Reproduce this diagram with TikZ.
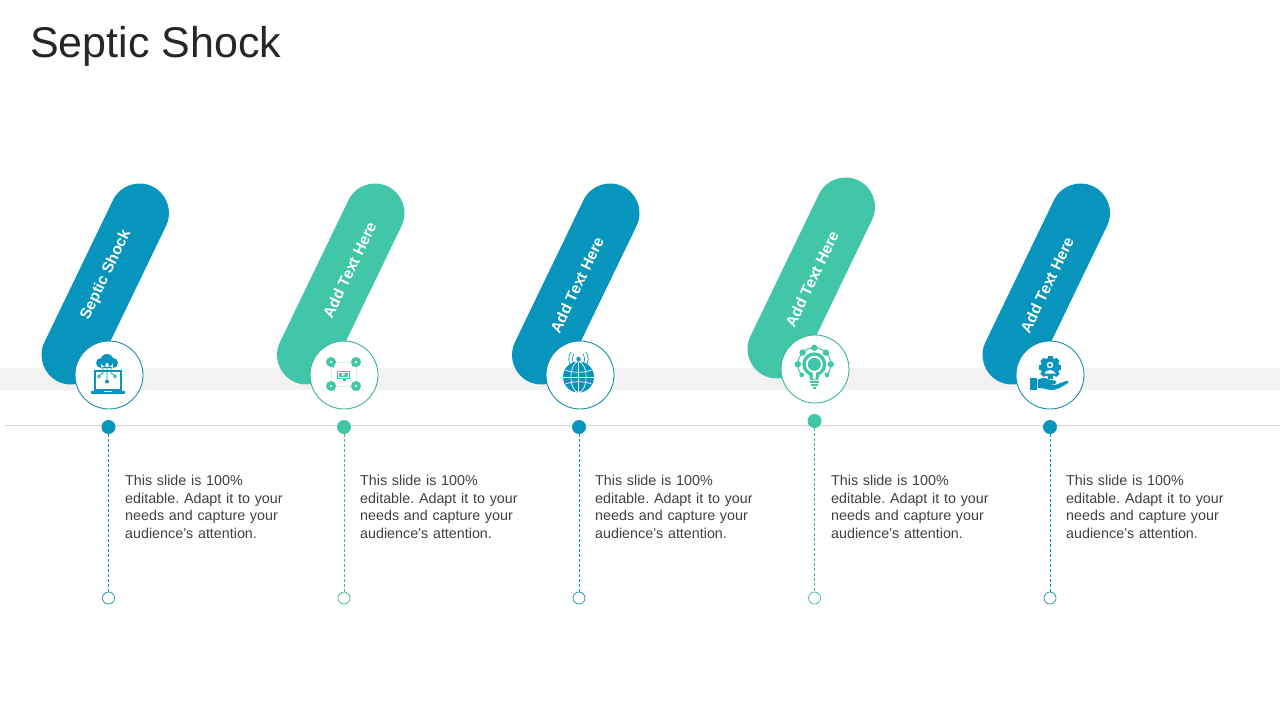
\documentclass[tikz,border=0pt]{standalone}
\usepackage{fontspec}
\setmainfont{Liberation Sans}
\definecolor{bluec}{HTML}{0795BE}
\definecolor{tealc}{HTML}{41C7A8}
\definecolor{ringblue}{HTML}{1A8FA8}
\definecolor{ringteal}{HTML}{35B89C}
\definecolor{bandc}{HTML}{F2F2F2}
\definecolor{rulec}{HTML}{D9D9D9}
\definecolor{bodyc}{HTML}{404040}
\definecolor{titlec}{HTML}{262626}
\tikzset{
  x=1pt,y=-1pt,
  pill/.style={line width=59pt,line cap=round},
  pilltext/.style={text=white,font=\bfseries\fontsize{15.5}{18}\selectfont,rotate=64.4,inner sep=0pt},
  ring/.style={circle,draw,fill=white,line width=0.9pt,minimum size=68pt,inner sep=0pt},
  dot/.style={circle,minimum size=14pt,inner sep=0pt},
  opendot/.style={circle,draw,fill=white,line width=0.7pt,minimum size=12pt,inner sep=0pt},
  stem/.style={dash pattern=on 3pt off 2pt,line width=0.9pt},
  body/.style={anchor=north west,align=left,text=bodyc,inner sep=0pt,text width=170pt,font=\fontsize{14.3}{17.6}\selectfont},
}
\begin{document}
\begin{tikzpicture}
\useasboundingbox (0,0) rectangle (1280,720);
\node[anchor=west,inner sep=0pt,text=titlec,font=\fontsize{43}{50}\selectfont] (title) at (30,46) {Septic Shock};
\fill[bandc] (0,368) rectangle (1280,390);
\draw[rulec,line width=0.9pt] (4,425.5) -- (1280,425.5);
% pills
\draw[pill,bluec] (139.5,213) -- (71,355);
\draw[pill,tealc] (375,213) -- (306.5,355);
\draw[pill,bluec] (610,213) -- (541.5,355);
\draw[pill,tealc] (845.5,207) -- (777,349);
\draw[pill,bluec] (1080.5,213) -- (1012,355);
\node[pilltext] (p1) at (106,275) {Septic Shock};
\node[pilltext] (p2) at (349.5,270) {Add Text Here};
\node[pilltext] (p3) at (577,285) {Add Text Here};
\node[pilltext] (p4) at (812,279) {Add Text Here};
\node[pilltext] (p5) at (1047,285) {Add Text Here};
% rings
\node[ring,draw=ringblue] (r1) at (109,375) {};
\node[ring,draw=ringteal] (r2) at (344,375) {};
\node[ring,draw=ringblue] (r3) at (580,375) {};
\node[ring,draw=ringteal] (r4) at (815,369) {};
\node[ring,draw=ringblue] (r5) at (1050,375) {};
% dots and stems
\node[dot,fill=bluec] (a1) at (108.5,427) {};
\node[dot,fill=tealc] (a2) at (344,427) {};
\node[dot,fill=bluec] (a3) at (579,427) {};
\node[dot,fill=tealc] (a4) at (814.5,421) {};
\node[dot,fill=bluec] (a5) at (1050,427) {};
\node[opendot,draw=ringblue] (b1) at (108.5,598) {};
\node[opendot,draw=ringteal] (b2) at (344,598) {};
\node[opendot,draw=ringblue] (b3) at (579,598) {};
\node[opendot,draw=ringteal] (b4) at (814.5,598) {};
\node[opendot,draw=ringblue] (b5) at (1050,598) {};
\draw[stem,bluec] (a1) -- (b1);
\draw[stem,ringteal] (a2) -- (b2);
\draw[stem,bluec] (a3) -- (b3);
\draw[stem,ringteal] (a4) -- (b4);
\draw[stem,bluec] (a5) -- (b5);
% body text
\foreach \n/\x in {1/125,2/360,3/595,4/831,5/1066}{
  \node[body] (t\n) at (\x,475) {\frenchspacing This slide is 100\%\\editable. Adapt it to your\\needs and capture your\\audience's attention.};
}
% icon 1: cloud over laptop
\begin{scope}[shift={(109,375)}]
  \fill[bluec] (-8,-12) circle (5) (-2,-14.5) circle (6.5) (4,-12) circle (5) (-8,-12) rectangle (4,-7);
  \draw[bluec,line width=2pt] (-14.5,-4) rectangle (11.5,14.5);
  \fill[bluec] (-18,15.5) rectangle (16,19);
  \fill[white] (-5,15.5) rectangle (3,16.5);
  \draw[bluec,line width=0.8pt] (-6,-7) -- (-6,-2) -- (-9,0) (-2,-7) -- (-2,4) (2,-7) -- (2,-2) -- (5,0);
  \draw[bluec,line width=0.8pt] (-10,1.5) circle (1.4) (6,1.5) circle (1.4);
  \fill[bluec] (-2,6.5) circle (2);
\end{scope}
% icon 2: monitor and four bubbles
\begin{scope}[shift={(344,375)}]
  \draw[tealc!25,line width=0.5pt] (-13,-13) rectangle (12,11);
  \fill[tealc] (-7.5,-4.5) rectangle (6,3.5);
  \draw[white,line width=0.7pt] (-5.5,-3) rectangle (4,2);
  \fill[white] (-2,-2.2) -- (1,-0.5) -- (-2,1.2) -- cycle;
  \fill[tealc] (-1,4) rectangle (1.5,5.5);
  \foreach \cx/\cy/\tx/\ty in {-13/-13/-10/-7,12/-13/8/-8,-13/11/-9/16,12/11/15/16}{
    \fill[tealc] (\cx,\cy) circle (5);
    \fill[tealc] (\tx,\ty) -- (\cx-3,\cy) -- (\cx+3,\cy) -- cycle;
    \fill[white] (\cx,\cy) circle (1.4);
  }
\end{scope}
% icon 3: globe with antenna
\begin{scope}[shift={(580,375)}]
  \fill[bluec] (-1.5,2) circle (15.5);
  \begin{scope}[white,line width=0.7pt]
    \draw (-17,2) -- (14,2);
    \draw (-1.5,-13.5) -- (-1.5,17.5);
    \draw (-1.5,2) ellipse (7.5 and 15.5);
    \draw (-14.5,-5) .. controls (-8,-2) and (5,-2) .. (11.5,-5);
    \draw (-14.5,9) .. controls (-8,6) and (5,6) .. (11.5,9);
  \end{scope}
  \fill[bluec] (-1.5,-16) circle (2.2);
  \draw[bluec,line width=1pt] (-1.5,-16) -- (-1.5,-13);
  \draw[bluec,line width=0.7pt] (-6,-21) .. controls (-8,-18) and (-8,-14) .. (-6,-11);
  \draw[bluec,line width=0.7pt] (3,-21) .. controls (5,-18) and (5,-14) .. (3,-11);
  \draw[bluec,line width=0.7pt] (-9,-23) .. controls (-12,-18) and (-12,-14) .. (-9,-9);
  \draw[bluec,line width=0.7pt] (6,-23) .. controls (9,-18) and (9,-14) .. (6,-9);
\end{scope}
% icon 4: light bulb with network
\begin{scope}[shift={(815,369)}]
  \draw[tealc,line width=1pt] (-17.2,-4.7) arc[start angle=180,end angle=360,radius=16.5];
  \draw[tealc,line width=1pt] (-17.2,-4.7) arc[start angle=180,delta angle=-40,radius=16.5];
  \draw[tealc,line width=1pt] (15.8,-4.7) arc[start angle=0,delta angle=40,radius=16.5];
  \foreach \a in {180,225,270,315,0}{
    \fill[tealc] (-0.7,-4.7) ++(\a:16.5) circle (3.2);
  }
  \foreach \a in {40,140}{
    \fill[tealc] (-0.7,-4.7) ++(\a:16.5) circle (2.4);
  }
  \fill[tealc] (-0.7,-4.7) circle (12);
  \fill[tealc] (-6.5,4) -- (5,4) -- (3,11) -- (-4.5,11) -- cycle;
  \fill[white] (-0.7,-4.7) circle (8.5);
  \fill[tealc] (-0.7,-4.7) circle (6.5);
  \fill[white] (-2.5,2) -- (1.1,2) -- (0.5,10) -- (-2,10) -- cycle;
  \fill[tealc] (-5.5,12) rectangle (4,14);
  \fill[tealc] (-4.5,15) rectangle (3,17);
  \fill[tealc] (-2.5,18) rectangle (1,19.5);
\end{scope}
% icon 5: gear above hand
\begin{scope}[shift={(1050,375)}]
  \foreach \a in {0,45,...,315}{
    \fill[bluec,rotate around={\a:(0,-7.7)}] (-2.5,-19) rectangle (2.5,-14);
  }
  \fill[bluec] (0,-7.7) circle (9.5);
  \fill[white] (0,-10) circle (3.2);
  \fill[white] (-5.5,-1.5) .. controls (-5,-6) and (5,-6) .. (5.5,-1.5) -- cycle;
  \fill[bluec] (0,-10) circle (1.8);
  \fill[bluec] (-20,3) rectangle (-13.5,15);
  \fill[bluec] (-12.5,4.5) .. controls (-7,2) and (-3,3) .. (0,5)
     -- (5,5.5) .. controls (7,6) and (7,8.5) .. (5,9)
     -- (-2,9) -- (5,10) -- (16,6) .. controls (19,5.5) and (19,7.5) .. (18,8)
     .. controls (12,12) and (6,15) .. (2,15)
     .. controls (-3,15) and (-7,12.5) .. (-12.5,13) -- cycle;
\end{scope}
\end{tikzpicture}
\end{document}
